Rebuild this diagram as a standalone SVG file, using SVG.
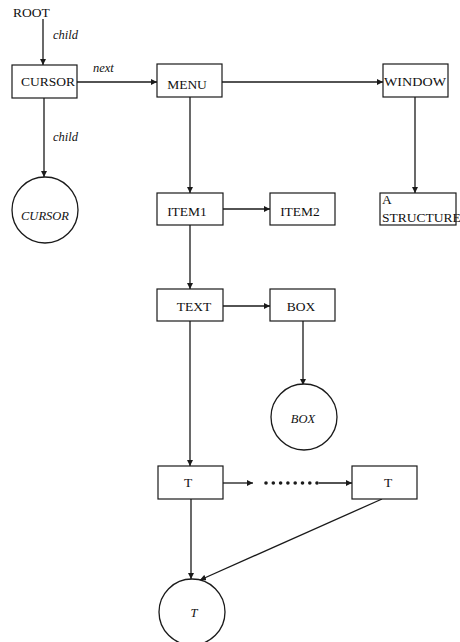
<svg xmlns="http://www.w3.org/2000/svg" width="460" height="642" viewBox="0 0 460 642">
<style>
.box{fill:#fff;stroke:#1a1a1a;stroke-width:1.2}
.circ{fill:#fff;stroke:#1a1a1a;stroke-width:1.3}
.t{font-family:"Liberation Serif","Times New Roman",serif;font-size:13.5px;fill:#111}
.i{font-family:"Liberation Serif","Times New Roman",serif;font-size:12.5px;font-style:italic;fill:#111}
.c{text-anchor:middle}
.ln{stroke:#1a1a1a;stroke-width:1.3;fill:none}
.dot{fill:#1a1a1a}
</style>
<defs>
<marker id="ah" viewBox="0 0 10 10" refX="10" refY="5" markerWidth="6" markerHeight="6" markerUnits="userSpaceOnUse" orient="auto">
<path d="M0,0 L10,5 L0,10 z" fill="#1a1a1a"/>
</marker>
</defs>
<rect width="460" height="642" fill="#fff"/>
<g id="connectors">
<line class="ln" x1="43" y1="19" x2="43" y2="65" marker-end="url(#ah)"/>
<text class="i" x="53" y="39">child</text>
<line class="ln" x1="77" y1="82" x2="157" y2="82" marker-end="url(#ah)"/>
<text class="i" x="93" y="72">next</text>
<line class="ln" x1="222" y1="82" x2="383" y2="82" marker-end="url(#ah)"/>
<line class="ln" x1="44" y1="98" x2="44" y2="177" marker-end="url(#ah)"/>
<text class="i" x="53" y="141">child</text>
<line class="ln" x1="415" y1="97" x2="415" y2="193" marker-end="url(#ah)"/>
<line class="ln" x1="190" y1="97" x2="190" y2="193" marker-end="url(#ah)"/>
<line class="ln" x1="223" y1="209" x2="270" y2="209" marker-end="url(#ah)"/>
<line class="ln" x1="190" y1="225" x2="190" y2="289" marker-end="url(#ah)"/>
<line class="ln" x1="223" y1="306" x2="270" y2="306" marker-end="url(#ah)"/>
<line class="ln" x1="303" y1="321" x2="303" y2="385" marker-end="url(#ah)"/>
<line class="ln" x1="190" y1="321" x2="190" y2="466" marker-end="url(#ah)"/>
<line class="ln" x1="223" y1="483" x2="253" y2="483" marker-end="url(#ah)"/>
<g class="dot">
<circle cx="266" cy="483" r="1.8"/><circle cx="273.3" cy="483" r="1.8"/><circle cx="280.6" cy="483" r="1.8"/><circle cx="287.9" cy="483" r="1.8"/><circle cx="295.2" cy="483" r="1.8"/><circle cx="302.5" cy="483" r="1.8"/><circle cx="309.8" cy="483" r="1.8"/><circle cx="317" cy="483" r="1.8"/>
</g>
<line class="ln" x1="319" y1="483" x2="352" y2="483" marker-end="url(#ah)"/>
<line class="ln" x1="191" y1="499" x2="191" y2="579" marker-end="url(#ah)"/>
<line class="ln" x1="382" y1="499" x2="200" y2="580" marker-end="url(#ah)"/>
</g>
<g id="root"><text class="t" x="13" y="17" font-size="12.5">ROOT</text></g>
<g id="cursor"><rect class="box" x="12" y="65" width="65" height="33"/><text class="t c" x="48" y="86">CURSOR</text></g>
<g id="menu"><rect class="box" x="157" y="64" width="65" height="33"/><text class="t c" x="187" y="89">MENU</text></g>
<g id="window"><rect class="box" x="383" y="64" width="65" height="33"/><text class="t" x="384" y="86" textLength="62" lengthAdjust="spacingAndGlyphs">WINDOW</text></g>
<g id="cursor-circle"><circle class="circ" cx="45" cy="210" r="33"/><text class="i c" x="45" y="220">CURSOR</text></g>
<g id="structure"><rect class="box" x="380" y="193" width="76" height="32"/><text class="t" x="382" y="204">A</text><text class="t" x="382" y="222" font-size="11.5">STRUCTURE</text></g>
<g id="item1"><rect class="box" x="157" y="193" width="66" height="32"/><text class="t c" x="187" y="216">ITEM1</text></g>
<g id="item2"><rect class="box" x="270" y="193" width="65" height="32"/><text class="t c" x="300" y="216">ITEM2</text></g>
<g id="text"><rect class="box" x="157" y="289" width="66" height="32"/><text class="t c" x="194" y="311">TEXT</text></g>
<g id="box"><rect class="box" x="270" y="289" width="65" height="32"/><text class="t c" x="301" y="311">BOX</text></g>
<g id="box-circle"><circle class="circ" cx="304" cy="417" r="33"/><text class="i c" x="303" y="423">BOX</text></g>
<g id="t1"><rect class="box" x="158" y="466" width="65" height="33"/><text class="t c" x="188" y="487">T</text></g>
<g id="t2"><rect class="box" x="352" y="466" width="65" height="33"/><text class="t c" x="388" y="487">T</text></g>
<g id="t-circle"><circle class="circ" cx="192" cy="612" r="33"/><text class="i c" x="194" y="617">T</text></g>
</svg>
